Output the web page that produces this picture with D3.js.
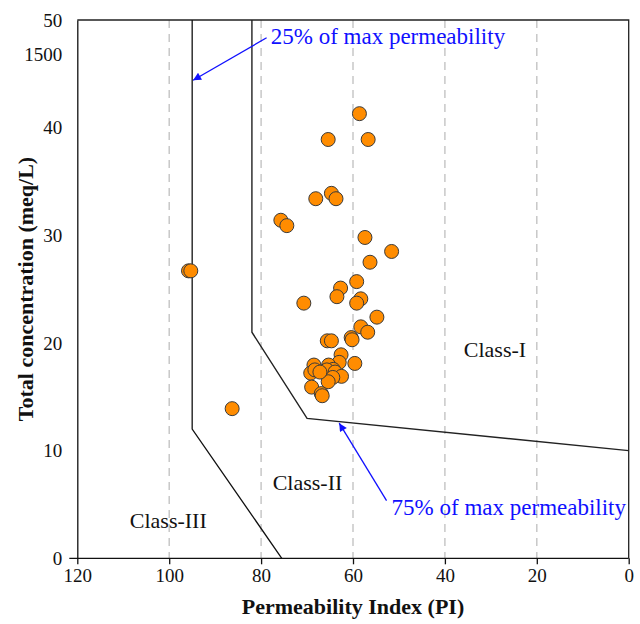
<!DOCTYPE html>
<html>
<head>
<meta charset="utf-8">
<script src="https://cdn.jsdelivr.net/npm/d3@7"></script>
<style>
  html, body { margin: 0; padding: 0; background: #fff; }
  svg { display: block; }
  text { font-family: "Liberation Serif", "Times New Roman", serif; }
</style>
</head>
<body>
<svg id="chart" width="640" height="624"></svg>
<script>
// Permeability Index (PI) of each sample
const piValues = [
  58.6, 65.4, 56.7, 64.7, 63.7, 68.1, 75.7, 74.4, 57.4, 51.6,
  56.3, 59.2, 62.7, 63.5, 70.7, 58.3, 59.2, 54.8, 58.3, 56.8,
  65.6, 64.7, 60.4, 60.2, 59.6, 62.6, 63.0, 68.5, 69.2, 68.3,
  65.3, 64.3, 65.7, 63.9, 62.5, 64.4, 65.4, 69.0, 66.9, 66.7,
  95.8, 95.3, 86.3, 67.2
];
// Total concentration (meq/L) of each sample
const concValues = [
  41.3, 38.9, 38.9, 33.9, 33.4, 33.4, 31.4, 30.9, 29.8, 28.5,
  27.5, 25.7, 25.1, 24.3, 23.7, 24.1, 23.7, 22.4, 21.5, 21.0,
  20.2, 20.2, 20.5, 20.3, 18.1, 18.9, 18.2, 17.95, 17.2, 17.5,
  17.95, 17.55, 17.5, 17.3, 16.9, 16.8, 16.4, 15.9, 15.3, 15.1,
  26.7, 26.7, 13.9, 17.3
];

// Class boundaries (Doneen diagram)
const line25PI   = [95, 95, 75.5];
const line25Conc = [50, 12, 0];
const line75PI   = [82, 82, 70, 0];
const line75Conc = [50, 21, 13, 10];

// Axis ticks
const xTicks = [120, 100, 80, 60, 40, 20, 0];
const yTicks = [0, 10, 20, 30, 40, 50];
const gridTicks = [100, 80, 60, 40, 20];
const strayLabel = "1500";
const strayLabelValue = 46.8;

// Region labels and annotations
const classLabels = [
  { text: "Class-I",   pi: 29.1,  conc: 18.7 },
  { text: "Class-II",  pi: 69.9,  conc: 6.3 },
  { text: "Class-III", pi: 100.2, conc: 2.85 }
];
const annotations = [
  { text: "25% of max permeability", pi: 77.9, conc: 47.75, fromPI: 78.8, fromConc: 48.35, toPI: 94.8, toConc: 44.4 },
  { text: "75% of max permeability", pi: 51.6, conc: 4.0,  fromPI: 52.7, fromConc: 5.35, toPI: 63.0, toConc: 12.55 }
];

const svg = d3.select("#chart");
const x = d3.scaleLinear().domain([120, 0]).range([77.3, 628.7]);
const y = d3.scaleLinear().domain([0, 50]).range([558.3, 20]);

// blue arrowhead
svg.append("defs").append("marker")
  .attr("id", "arrow")
  .attr("viewBox", "0 0 10 10")
  .attr("refX", 10).attr("refY", 5)
  .attr("markerWidth", 11).attr("markerHeight", 8)
  .attr("markerUnits", "userSpaceOnUse")
  .attr("orient", "auto")
  .append("path").attr("d", "M0,0 L10,5 L0,10 Z").attr("fill", "#1010ff");

// dashed vertical grid lines
svg.append("g").selectAll("line").data(gridTicks).join("line")
  .attr("x1", d => x(d)).attr("x2", d => x(d))
  .attr("y1", y(50)).attr("y2", y(0))
  .attr("stroke", "#c4c4c4").attr("stroke-width", 1.4)
  .attr("stroke-dasharray", "8,6");

// plot frame (top and right)
svg.append("path")
  .attr("d", `M${x(120)},${y(50)} H${x(0)} V${y(0)}`)
  .attr("fill", "none").attr("stroke", "#222").attr("stroke-width", 1.3);

// x axis
const xAxis = svg.append("g").attr("transform", `translate(0,${y(0)})`)
  .call(d3.axisBottom(x).tickValues(xTicks).tickSizeInner(6).tickSizeOuter(0).tickPadding(4));
xAxis.select(".domain").remove();
xAxis.append("line").attr("x1", x(120) - 8).attr("x2", x(0)).attr("stroke", "#111").attr("stroke-width", 1.3);
xAxis.selectAll(".tick line").attr("stroke", "#111").attr("stroke-width", 1.3);
xAxis.selectAll(".tick text").attr("font-size", 19).attr("fill", "#111")
  .style("font-family", '"Liberation Serif", "Times New Roman", serif');

// y axis
const yAxis = svg.append("g").attr("transform", `translate(${x(120)},0)`)
  .call(d3.axisLeft(y).tickValues(yTicks).tickSize(0).tickPadding(15));
yAxis.select(".domain").attr("stroke", "#111").attr("stroke-width", 1.3);
yAxis.selectAll(".tick text").attr("font-size", 19).attr("fill", "#111")
  .style("font-family", '"Liberation Serif", "Times New Roman", serif');

svg.append("text")
  .attr("x", x(120) - 15).attr("y", y(strayLabelValue)).attr("dy", "0.32em")
  .attr("text-anchor", "end").attr("font-size", 19).attr("fill", "#111")
  .text(strayLabel);

// class boundaries
const line = d3.line().x(d => x(d[0])).y(d => y(d[1]));
svg.append("path").datum(d3.zip(line25PI, line25Conc))
  .attr("d", line).attr("fill", "none").attr("stroke", "#111").attr("stroke-width", 1.3);
svg.append("path").datum(d3.zip(line75PI, line75Conc))
  .attr("d", line).attr("fill", "none").attr("stroke", "#222").attr("stroke-width", 1.4);

// samples
svg.append("g").selectAll("circle").data(d3.zip(piValues, concValues)).join("circle")
  .attr("cx", d => x(d[0])).attr("cy", d => y(d[1])).attr("r", 7)
  .attr("fill", "#ff8c00").attr("stroke", "#3a3a3a").attr("stroke-width", 1);

// region labels
svg.append("g").selectAll("text").data(classLabels).join("text")
  .attr("x", d => x(d.pi)).attr("y", d => y(d.conc))
  .attr("text-anchor", "middle").attr("font-size", 22).attr("fill", "#111")
  .text(d => d.text);

// annotations
const ann = svg.append("g");
ann.selectAll("line").data(annotations).join("line")
  .attr("x1", d => x(d.fromPI)).attr("y1", d => y(d.fromConc))
  .attr("x2", d => x(d.toPI)).attr("y2", d => y(d.toConc))
  .attr("stroke", "#1010ff").attr("stroke-width", 1.3)
  .attr("marker-end", "url(#arrow)");
ann.selectAll("text").data(annotations).join("text")
  .attr("x", d => x(d.pi)).attr("y", d => y(d.conc))
  .attr("font-size", 23).attr("fill", "#1010ff")
  .text(d => d.text);

// axis titles
svg.append("text")
  .attr("x", (x(120) + x(0)) / 2).attr("y", 614)
  .attr("text-anchor", "middle").attr("font-size", 22).attr("font-weight", "bold").attr("fill", "#111")
  .text("Permeability Index (PI)");
svg.append("text")
  .attr("transform", `translate(33,289) rotate(-90)`)
  .attr("text-anchor", "middle").attr("font-size", 22).attr("font-weight", "bold").attr("fill", "#111")
  .text("Total concentration (meq/L)");
</script>
</body>
</html>
